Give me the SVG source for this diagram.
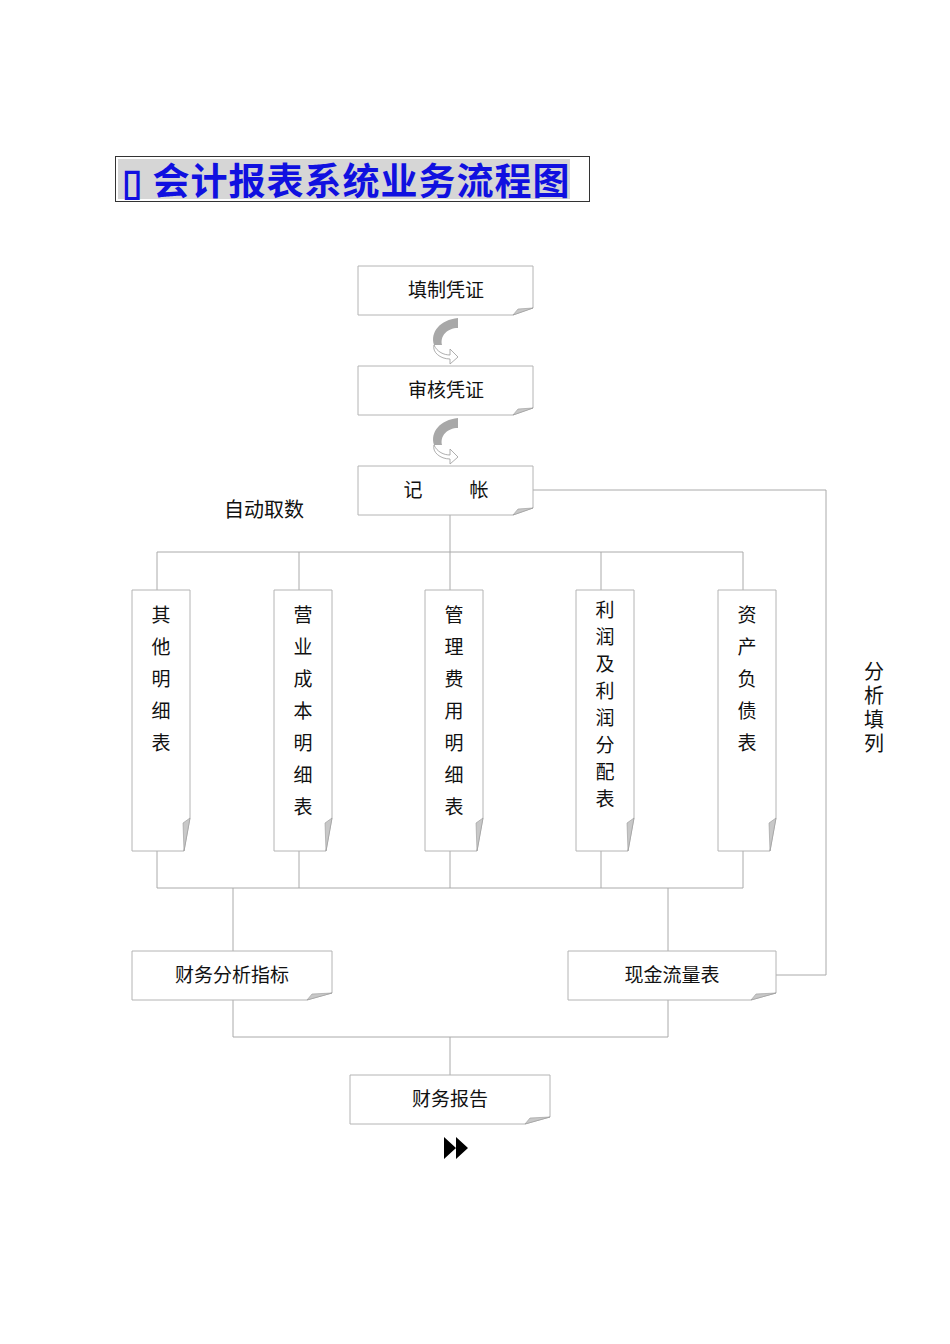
<svg xmlns="http://www.w3.org/2000/svg" width="950" height="1344" viewBox="0 0 950 1344">
<style>
.n{fill:#fff;stroke:#b4b4b4;stroke-width:1}
.f{fill:#c8c8c8;stroke:#999;stroke-width:.6}
.t{font-family:"Noto Sans CJK SC",sans-serif;font-size:19px;fill:#111;text-anchor:middle}
.c{fill:none;stroke:#aaa;stroke-width:1}
</style>
<rect width="950" height="1344" fill="#fff"/>
<g id="title">
<rect x="115.500" y="156.500" width="474" height="45" fill="#fff" stroke="#333"/>
<rect x="118" y="159" width="452" height="40" fill="#d6d6d6"/>
<text x="122" y="195" font-family="Noto Sans CJK SC,sans-serif" font-size="37" font-weight="bold" fill="#1010e0" letter-spacing="1">▯ 会计报表系统业务流程图</text>
</g>
<g id="connectors" class="c">
<path d="M450 515V552M157 552H743M157 552V590M299 552V590M450 552V590M601 552V590M743 552V590"/>
<path d="M157 851V888M299 851V888M450 851V888M601 851V888M743 851V888M157 888H743M233 888V951M668 888V951"/>
<path d="M233 1000V1037H668V1000M450 1037V1075"/>
<path d="M533 490H826V975H776"/>
</g>
<g id="arrow1">
<path d="M458 318C440 320 430 332 434 345L442 345C440 336 447 328 458 328Z" fill="#a8a8a8"/>
<path d="M434 345C437 352 444 355 450 355L450 349L458 357L450 364L450 359C440 359 432 352 434 345Z" fill="#fff" stroke="#999" stroke-width=".8"/>
</g>
<g id="arrow2">
<path d="M458 418C440 420 430 432 434 445L442 445C440 436 447 428 458 428Z" fill="#a8a8a8"/>
<path d="M434 445C437 452 444 455 450 455L450 449L458 457L450 464L450 459C440 459 432 452 434 445Z" fill="#fff" stroke="#999" stroke-width=".8"/>
</g>
<g id="n1"><path class="n" d="M358 266H533V308L513 315H358Z"/><path class="f" d="M533 308L513 315L518 309Z"/><text class="t" x="446" y="297">填制凭证</text></g>
<g id="n2"><path class="n" d="M358 366H533V408L513 415H358Z"/><path class="f" d="M533 408L513 415L518 409Z"/><text class="t" x="446" y="397">审核凭证</text></g>
<g id="n3"><path class="n" d="M358 466H533V508L513 515H358Z"/><path class="f" d="M533 508L513 515L518 509Z"/><text class="t" x="413" y="497">记</text><text class="t" x="479" y="497">帐</text></g>
<text class="t" x="264" y="517" style="font-size:20px">自动取数</text>
<g id="v1"><path class="n" d="M132 590H190V818L184 851H132Z"/><path class="f" d="M190 818L184 851L183 823Z"/>
<text class="t"><tspan x="161" y="622">其</tspan><tspan x="161" y="654">他</tspan><tspan x="161" y="686">明</tspan><tspan x="161" y="718">细</tspan><tspan x="161" y="750">表</tspan></text></g>
<g id="v2"><path class="n" d="M274 590H332V818L326 851H274Z"/><path class="f" d="M332 818L326 851L325 823Z"/>
<text class="t"><tspan x="303" y="622">营</tspan><tspan x="303" y="654">业</tspan><tspan x="303" y="686">成</tspan><tspan x="303" y="718">本</tspan><tspan x="303" y="750">明</tspan><tspan x="303" y="782">细</tspan><tspan x="303" y="814">表</tspan></text></g>
<g id="v3"><path class="n" d="M425 590H483V818L477 851H425Z"/><path class="f" d="M483 818L477 851L476 823Z"/>
<text class="t"><tspan x="454" y="622">管</tspan><tspan x="454" y="654">理</tspan><tspan x="454" y="686">费</tspan><tspan x="454" y="718">用</tspan><tspan x="454" y="750">明</tspan><tspan x="454" y="782">细</tspan><tspan x="454" y="814">表</tspan></text></g>
<g id="v4"><path class="n" d="M576 590H634V818L628 851H576Z"/><path class="f" d="M634 818L628 851L627 823Z"/>
<text class="t"><tspan x="605" y="617">利</tspan><tspan x="605" y="644">润</tspan><tspan x="605" y="671">及</tspan><tspan x="605" y="698">利</tspan><tspan x="605" y="725">润</tspan><tspan x="605" y="752">分</tspan><tspan x="605" y="779">配</tspan><tspan x="605" y="806">表</tspan></text></g>
<g id="v5"><path class="n" d="M718 590H776V818L770 851H718Z"/><path class="f" d="M776 818L770 851L769 823Z"/>
<text class="t"><tspan x="747" y="622">资</tspan><tspan x="747" y="654">产</tspan><tspan x="747" y="686">负</tspan><tspan x="747" y="718">债</tspan><tspan x="747" y="750">表</tspan></text></g>
<text class="t" style="font-size:20px"><tspan x="874" y="679">分</tspan><tspan x="874" y="703">析</tspan><tspan x="874" y="727">填</tspan><tspan x="874" y="751">列</tspan></text>
<g id="n4"><path class="n" d="M132 951H332V993L307 1000H132Z"/><path class="f" d="M332 993L307 1000L312 994Z"/><text class="t" x="232" y="982">财务分析指标</text></g>
<g id="n5"><path class="n" d="M568 951H776V993L751 1000H568Z"/><path class="f" d="M776 993L751 1000L756 994Z"/><text class="t" x="672" y="982">现金流量表</text></g>
<g id="n6"><path class="n" d="M350 1075H550V1117L525 1124H350Z"/><path class="f" d="M550 1117L525 1124L530 1118Z"/><text class="t" x="450" y="1106">财务报告</text></g>
<path d="M444 1137L456 1148L444 1159ZM456 1137L468 1148L456 1159Z" fill="#000"/>
</svg>
